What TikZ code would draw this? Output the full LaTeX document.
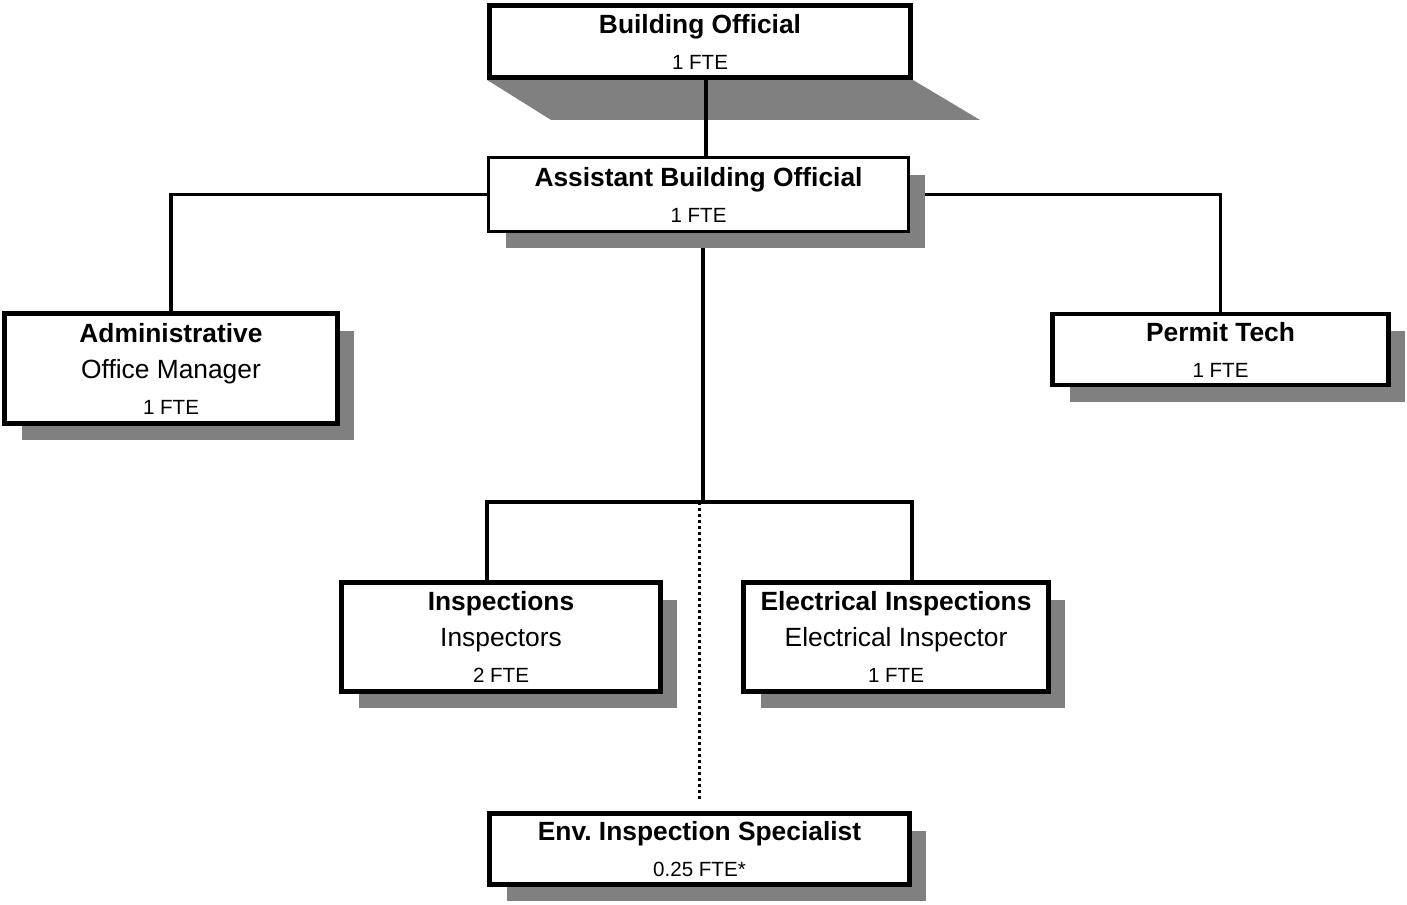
\documentclass[tikz,border=0pt]{standalone}
\usepackage{fontspec}
\setmainfont{Liberation Sans}
\frenchspacing
\usetikzlibrary{positioning,shadows,backgrounds}
\definecolor{shadowgray}{HTML}{808080}

\tikzset{
  unitbox/.style={draw,fill=white,line width=2.8pt,align=center,inner sep=0pt,
    font=\fontsize{15}{20.5}\selectfont},
  shadowbox/.style={unitbox,drop shadow={shadow xshift=0.34cm,shadow yshift=-0.34cm,fill=shadowgray,opacity=1}},
  link/.style={line width=2.1pt},
  mainlink/.style={line width=2.7pt},
  dotlink/.style={line width=2.1pt,dash pattern=on 0.06cm off 0.06cm},
}
\newcommand{\fte}[1]{{\fontsize{11.7}{20.5}\selectfont #1}}

\begin{document}
\begin{tikzpicture}[x=0.02cm,y=-0.02cm]
\useasboundingbox (0,0) rectangle (1407,905);

\node[unitbox,minimum width=8.42cm,minimum height=1.44cm] (bo) at (700,41.5) {\textbf{Building Official}\\\fte{1 FTE}};
\node[shadowbox,line width=1.8pt,minimum width=8.4cm,minimum height=1.48cm] (abo) at (698.5,194.5) {\textbf{Assistant Building Official}\\\fte{1 FTE}};
\node[shadowbox,minimum width=6.66cm,minimum height=2.2cm] (adm) at (171,368.5) {\textbf{Administrative}\\Office Manager\\\fte{1 FTE}};
\node[shadowbox,minimum width=6.72cm,minimum height=1.42cm] (pt) at (1220.5,349.5) {\textbf{Permit Tech}\\\fte{1 FTE}};
\node[shadowbox,minimum width=6.38cm,minimum height=2.18cm] (insp) at (501,637) {\textbf{Inspections}\\Inspectors\\\fte{2 FTE}};
\node[shadowbox,minimum width=6.1cm,minimum height=2.18cm] (elec) at (896,637) {\textbf{Electrical Inspections}\\Electrical Inspector\\\fte{1 FTE}};
\node[shadowbox,minimum width=8.4cm,minimum height=1.42cm] (env) at (699.5,849) {\textbf{Env. Inspection Specialist}\\\fte{0.25 FTE*}};

\coordinate (bar) at (703,502);

\begin{scope}[on background layer]
\fill[white] (0,0) rectangle (1407,905);
% slanted shadow under the top box
\fill[shadowgray] (bo.south west) -- (bo.south east) -- ++(67,40) -- ([shift={(64,40)}]bo.south west) -- cycle;
\draw[link] ([xshift=0.12cm]bo.south) -- ([xshift=0.12cm]bo.south |- abo.north);
\draw[link] (abo.west) -| (adm.north);
\draw[link] (abo.east) -| (pt.north);
\draw[mainlink] (abo.south -| bar) -- (bar);
\draw[mainlink] ([xshift=-0.28cm]insp.north) |- (bar) -| ([xshift=0.32cm]elec.north);
\draw[dotlink] (bar -| env.north) -- ([yshift=0.2cm]env.north);
\end{scope}
\end{tikzpicture}
\end{document}
